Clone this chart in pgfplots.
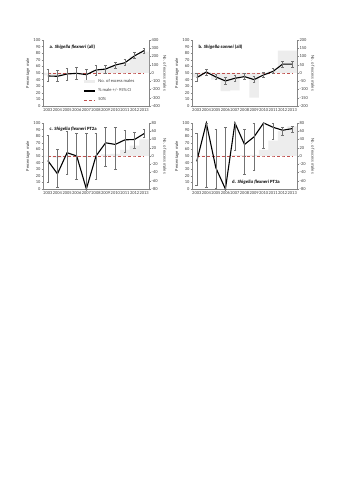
\documentclass[border=0pt]{standalone}
\usepackage{fontspec}
\setmainfont{Carlito}
\usepackage{pgfplots}
\usepackage{pgfplotstable}
\pgfplotsset{compat=1.18}
\definecolor{axgray}{HTML}{868686}
\definecolor{txtgray}{HTML}{404040}
\definecolor{exred}{HTML}{C0504D}
\definecolor{barfill}{HTML}{EDEDED}

% x y lo hi bar
\pgfplotstableread{
x y lo hi bar
0 45.5 37 55 -30
1 45 37 54.5 -35
2 48.5 39.5 57 -10
3 49.5 40.5 58 -3
4 47.5 39 55.5 -15
5 54.5 47 61 30
6 56 49.5 62 45
7 62 57 67 90
8 65.5 61 71 120
9 76 72 81 200
10 84 80 87 260
}\dataA
\pgfplotstableread{
x y lo hi bar
0 43 38 49 -25
1 51.5 47 56 5
2 44 40 48.5 -40
3 38 33 43 -110
4 42 38 46.5 -105
5 44.5 40 49 -20
6 40 36 44.5 -150
7 47 44 51 -10
8 52.5 49 57 15
9 63.5 59 68 135
10 63.5 59 68 135
}\dataB
\pgfplotstableread{
x y lo hi bar
0 43 10 82 -1
1 23 3 60 -4
2 55 22 87 1
3 50 15 85 0
4 0 0 85 -3
5 50 15 85 0
6 70 35 93 4
7 67.5 30 93 5
8 74.5 56 89 15
9 75 61 86 25
10 84 78 91 40
}\dataC
\pgfplotstableread{
x y lo hi bar
0 42 5 85 -1
1 100 3 100 1
2 32 1.5 90 -1
3 0 0 94 -1
4 100 58 100 2
5 67.5 23 90 2
6 79 29 99 3
7 100 62 100 15
8 93.5 76 100 37
9 89 82 94 60
10 91.5 86 95 72
}\dataD

\tikzset{
  half/.style={exred, line width=0.8bp, dash pattern=on 3bp off 2bp},
  ttl/.style={font=\fontsize{4.8}{5}\selectfont\bfseries, text=black}
}
\pgfplotsset{
  base/.style={scale only axis, height=66bp, xmin=-0.5, xmax=10.5,
    anchor=south west,
    tick label style={font=\fontsize{4.5}{5}\selectfont, text=txtgray},
    label style={font=\fontsize{4.5}{5}\selectfont, text=txtgray},
    /pgf/number format/assume math mode=true,
    axis line style={draw=axgray, line width=0.4bp},
    tick style={draw=axgray, line width=0.4bp},
    tick align=outside, major tick length=1.5bp, minor tick length=1.5bp,
    clip=false},
  leftax/.style={base, axis y line*=left, axis x line*=bottom,
    ymin=0, ymax=100, ytick={0,10,...,100},
    xtick={0,...,10}, xticklabels={2003,2004,2005,2006,2007,2008,2009,2010,2011,2012,2013},
    major x tick style={draw=none},
    minor xtick={-0.5,0.5,...,10.5},
    xticklabel style={inner sep=1bp},
    yticklabel style={inner sep=1bp},
    ylabel={Percentage male},
    ylabel style={yshift=-1bp}},
  rightax/.style={base, axis y line*=right, axis x line=none,
    yticklabel style={inner sep=1bp},
    ylabel={No. of excess males},
    every axis y label/.style={at={(rel axis cs:1,0.5)}, xshift=16bp, rotate=-90,
      anchor=center, font=\fontsize{4.5}{5}\selectfont, text=txtgray}},
  pct/.style={black, line width=1.1bp, no markers,
    error bars/.cd, y dir=both, y explicit,
    error bar style={draw=black!55, line width=0.5bp},
    error mark options={rotate=90, mark size=1.3bp, draw=black!55, line width=0.5bp}},
  bars/.style={ybar, bar width=1, fill=barfill, draw=none, bar shift=0}
}

\begin{document}
\begin{tikzpicture}
\useasboundingbox (0bp,0bp) rectangle (339bp,480bp);
\fill[white] (0bp,0bp) rectangle (339bp,480bp);

% ---------- panel a ----------
\begin{axis}[rightax, at={(43bp,374bp)}, width=106bp,
  ymin=-400, ymax=400, ytick={-400,-300,...,400}]
\addplot[bars] table[x=x, y=bar] {\dataA};
\end{axis}
\begin{axis}[leftax, at={(43bp,374bp)}, width=106bp,
  legend style={at={(rel axis cs:0.37,0.02)}, anchor=south west, draw=none, fill=none,
    font=\fontsize{4.5}{5}\selectfont, text=txtgray, row sep=0.6bp, inner sep=0pt},
  legend cell align=left]
\addplot[forget plot, half] table[x=x, y expr=50] {\dataA};
\addplot[forget plot, pct] table[x=x, y=y, y error plus expr=\thisrow{hi}-\thisrow{y}, y error minus expr=\thisrow{y}-\thisrow{lo}] {\dataA};
\addlegendimage{legend image code/.code={\draw[barfill, line width=3bp] (0bp,0bp) -- (11bp,0bp);}}
\addlegendentry{No. of excess males}
\addlegendimage{legend image code/.code={\draw[black, line width=1.1bp] (0bp,0bp) -- (11bp,0bp);}}
\addlegendentry{\% male +/- 95\% CI}
\addlegendimage{legend image code/.code={\draw[half] (0bp,0bp) -- (11bp,0bp);}}
\addlegendentry{50\%}
\node[ttl, anchor=north west] at (rel axis cs:0.03,0.98) {a. \textit{Shigella flexneri} (all)};
\end{axis}

% ---------- panel b ----------
\begin{axis}[rightax, at={(192bp,374bp)}, width=105bp,
  ymin=-200, ymax=200, ytick={-200,-150,...,200}]
\addplot[bars] table[x=x, y=bar] {\dataB};
\end{axis}
\begin{axis}[leftax, at={(192bp,374bp)}, width=105bp]
\addplot[half] table[x=x, y expr=50] {\dataB};
\addplot[pct] table[x=x, y=y, y error plus expr=\thisrow{hi}-\thisrow{y}, y error minus expr=\thisrow{y}-\thisrow{lo}] {\dataB};
\node[ttl, anchor=north west] at (rel axis cs:0.03,0.98) {b. \textit{Shigella sonnei} (all)};
\end{axis}

% ---------- panel c ----------
\begin{axis}[rightax, at={(43bp,291bp)}, width=106bp,
  ymin=-80, ymax=80, ytick={-80,-60,...,80}]
\addplot[bars] table[x=x, y=bar] {\dataC};
\end{axis}
\begin{axis}[leftax, at={(43bp,291bp)}, width=106bp]
\addplot[half] table[x=x, y expr=50] {\dataC};
\addplot[pct] table[x=x, y=y, y error plus expr=\thisrow{hi}-\thisrow{y}, y error minus expr=\thisrow{y}-\thisrow{lo}] {\dataC};
\node[ttl, anchor=north west] at (rel axis cs:0.03,0.99) {c. \textit{Shigella flexneri} PT2a};
\end{axis}

% ---------- panel d ----------
\begin{axis}[rightax, at={(192bp,291bp)}, width=105bp,
  ymin=-80, ymax=80, ytick={-80,-60,...,80}, clip=true]
\addplot[bars] table[x=x, y=bar] {\dataD};
\end{axis}
\begin{axis}[leftax, at={(192bp,291bp)}, width=105bp]
\addplot[half] table[x=x, y expr=50] {\dataD};
\addplot[pct] table[x=x, y=y, y error plus expr=\thisrow{hi}-\thisrow{y}, y error minus expr=\thisrow{y}-\thisrow{lo}] {\dataD};
\node[ttl, anchor=east] at (rel axis cs:0.87,0.11) {d. \textit{Shigella flexneri} PT3a};
\end{axis}
\end{tikzpicture}
\end{document}
